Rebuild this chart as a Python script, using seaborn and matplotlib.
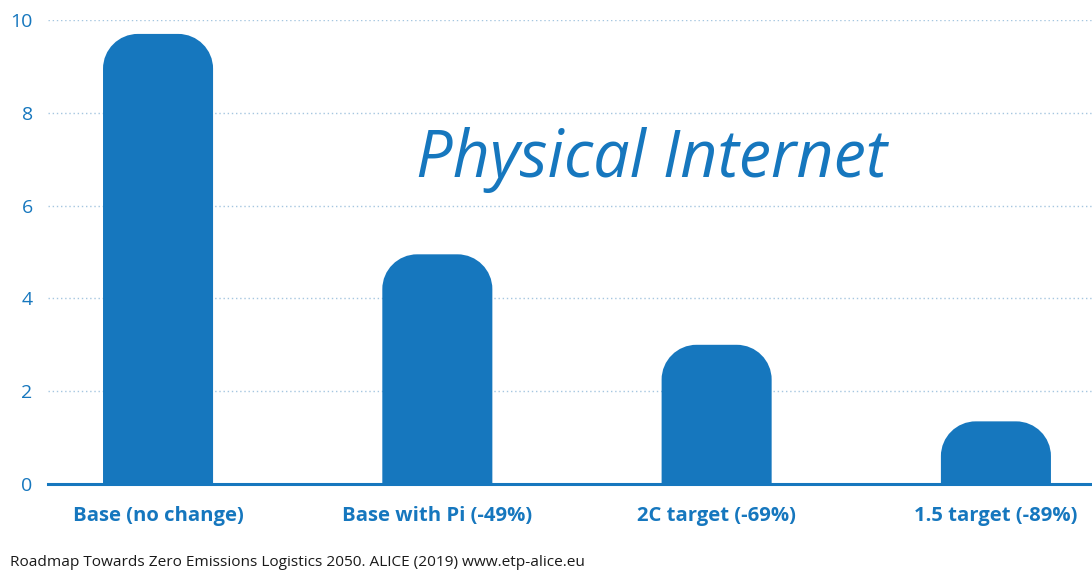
import matplotlib
matplotlib.use("Agg")
import matplotlib.pyplot as plt
from matplotlib.path import Path
from matplotlib.patches import PathPatch
import seaborn as sns
import pandas as pd

categories = ["Base (no change)", "Base with Pi (-49%)", "2C target (-69%)", "1.5 target (-89%)"]
values = [9.7, 4.95, 3.0, 1.35]
yticks = [0, 2, 4, 6, 8, 10]
title_text = "Physical Internet"
source_text = "Roadmap Towards Zero Emissions Logistics 2050. ALICE (2019) www.etp-alice.eu"

BLUE = "#1677be"
GRID = "#a5c6e0"

sns.set_theme(style="white")
plt.rcParams["font.family"] = ["Open Sans", "DejaVu Sans"]

fig = plt.figure(figsize=(10.92, 5.72), dpi=100)
ax = fig.add_axes([48 / 1092, 1 - 484 / 572, 1 - 48 / 1092, (484 - 20) / 572])

df = pd.DataFrame({"cat": categories, "val": values})
sns.barplot(data=df, x="cat", y="val", color=BLUE, width=0.394, saturation=1, ax=ax, zorder=3)

ax.set_xlim(-0.394, 3.344)
ax.set_ylim(0, 10)

# Replace bars with round-topped versions
rx = 0.125
ry = 0.75
k = 0.5523
for p in list(ax.patches):
    x0 = p.get_x()
    w = p.get_width()
    h = p.get_height()
    r_y = min(ry, h)
    verts = [
        (x0, 0),
        (x0, h - r_y),
        (x0, h - r_y + k * r_y), (x0 + rx - k * rx, h), (x0 + rx, h),
        (x0 + w - rx, h),
        (x0 + w - rx + k * rx, h), (x0 + w, h - r_y + k * r_y), (x0 + w, h - r_y),
        (x0 + w, 0),
        (x0, 0),
    ]
    codes = [Path.MOVETO, Path.LINETO,
             Path.CURVE4, Path.CURVE4, Path.CURVE4,
             Path.LINETO,
             Path.CURVE4, Path.CURVE4, Path.CURVE4,
             Path.LINETO, Path.CLOSEPOLY]
    ax.add_patch(PathPatch(Path(verts, codes), facecolor=BLUE, edgecolor="none", zorder=3))
    p.set_visible(False)

ax.set_yticks(yticks)
ax.set_yticklabels([str(t) for t in yticks])
ax.yaxis.grid(True, linestyle=(0, (1, 2)), color=GRID, linewidth=1.0, zorder=0)
ax.xaxis.grid(False)
ax.set_axisbelow(True)

for s in ["top", "right", "left"]:
    ax.spines[s].set_visible(False)
ax.spines["bottom"].set_color(BLUE)
ax.spines["bottom"].set_linewidth(2.2)
ax.spines["bottom"].set_zorder(4)

ax.tick_params(axis="y", length=0, pad=11, labelsize=14, labelcolor=BLUE)
ax.tick_params(axis="x", length=0, pad=16, labelsize=14.6, labelcolor=BLUE)
for lbl in ax.get_xticklabels():
    lbl.set_fontweight("bold")
ax.set_xlabel("")
ax.set_ylabel("")

ax.text(0.578, 0.6616, title_text, transform=ax.transAxes,
        fontsize=46.5, style="italic", color=BLUE, ha="center", va="baseline", zorder=5)

fig.text(10 / 1092, 1 - 563 / 572, source_text, fontsize=11.1, color="#1a1a1a",
         ha="left", va="center")

fig.savefig("out.png", dpi=100)
